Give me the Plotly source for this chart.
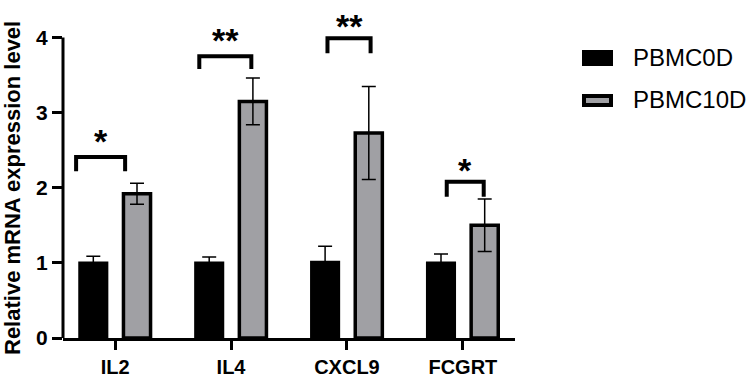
import plotly.graph_objects as go

genes = ["IL2", "IL4", "CXCL9", "FCGRT"]
pbmc0d = [1.00, 1.00, 1.01, 1.00]
pbmc0d_err = [0.09, 0.08, 0.21, 0.12]
pbmc10d = [1.92, 3.15, 2.73, 1.50]
pbmc10d_err = [0.14, 0.31, 0.62, 0.35]
series_names = ["PBMC0D", "PBMC10D"]
y_ticks = [0, 1, 2, 3, 4]

# significance: (gene index, left offset, right offset, top y, leg bottom y, label, label y)
sig = [
    (0, -0.337, 0.086, 2.41, 2.22, "*", 2.62),
    (1, -0.274, 0.175, 3.75, 3.58, "**", 3.97),
    (2, -0.168, 0.204, 3.99, 3.79, "**", 4.16),
    (3, -0.139, 0.180, 2.08, 1.88, "*", 2.24),
]

W, H = 749, 377
ML, MR, MT, MB = 63, 234, 0, 39
PW, PH = W - ML - MR, H - MT - MB
GREY = "#a0a0a4"
BOLD = dict(family="Liberation Sans, Arial, sans-serif", color="black", weight="bold")


def px2x(p):
    return (p - ML) / PW


def px2y(p):
    return (H - MB - p) / PH


fig = go.Figure()
fig.add_trace(go.Bar(
    x=genes, y=pbmc0d, name=series_names[0],
    marker=dict(color="black", line=dict(color="black", width=3)),
    error_y=dict(type="data", array=pbmc0d_err, visible=True, color="black", thickness=1.5, width=7),
    showlegend=False,
))
fig.add_trace(go.Bar(
    x=genes, y=pbmc10d, name=series_names[1],
    marker=dict(color=GREY, line=dict(color="black", width=3.5)),
    error_y=dict(type="data", array=pbmc10d_err, visible=True, color="black", thickness=1.5, width=7),
    showlegend=False,
))

shapes = []
annotations = []
# y axis line from 0 to 4 only
shapes.append(dict(type="line", xref="paper", yref="y", x0=0, x1=0, y0=0, y1=y_ticks[-1],
                   line=dict(color="black", width=3)))
for gi, lo, ro, top, bot, lab, ly in sig:
    x0, x1 = gi + lo, gi + ro
    shapes.append(dict(type="path", xref="x", yref="y",
                       path=f"M{x0},{bot} L{x0},{top} L{x1},{top} L{x1},{bot}",
                       line=dict(color="black", width=4)))
    annotations.append(dict(x=(x0 + x1) / 2, y=ly, xref="x", yref="y", text=lab, showarrow=False,
                            font=dict(size=34, **BOLD), xanchor="center", yanchor="middle"))

# manual legend
shapes.append(dict(type="rect", xref="paper", yref="paper", x0=px2x(582), x1=px2x(613),
                   y0=px2y(66), y1=px2y(50), fillcolor="black", line=dict(width=0)))
shapes.append(dict(type="rect", xref="paper", yref="paper", x0=px2x(584), x1=px2x(611),
                   y0=px2y(105), y1=px2y(96), fillcolor=GREY, line=dict(color="black", width=4)))
for name, cy in zip(series_names, [58, 100]):
    annotations.append(dict(x=px2x(631), y=px2y(cy), xref="paper", yref="paper", text=name,
                            showarrow=False, xanchor="left", yanchor="middle",
                            font=dict(size=24, family="Liberation Sans, Arial, sans-serif", color="black")))

annotations.append(dict(x=px2x(13), y=px2y(188), xref="paper", yref="paper",
                        text="Relative mRNA expression level", textangle=-90, showarrow=False,
                        xanchor="center", yanchor="middle", font=dict(size=22, **BOLD)))

fig.update_layout(
    width=W, height=H, autosize=False,
    margin=dict(l=ML, r=MR, t=MT, b=MB, pad=0, autoexpand=False),
    paper_bgcolor="white", plot_bgcolor="white",
    barmode="group", bargap=0.246, bargroupgap=0.38,
    shapes=shapes, annotations=annotations,
    xaxis=dict(range=[-0.45, 3.45], showline=True, linecolor="black", linewidth=3,
               ticks="outside", ticklen=9, tickwidth=3, tickcolor="black", automargin=False,
               tickfont=dict(size=20, **BOLD), showgrid=False, zeroline=False),
    yaxis=dict(range=[0, 4.5], tickvals=y_ticks, showline=False, automargin=False,
               ticks="outside", ticklen=10, tickwidth=3, tickcolor="black",
               tickfont=dict(size=21, **BOLD), showgrid=False, zeroline=False),
)

fig.write_html("out.html")
